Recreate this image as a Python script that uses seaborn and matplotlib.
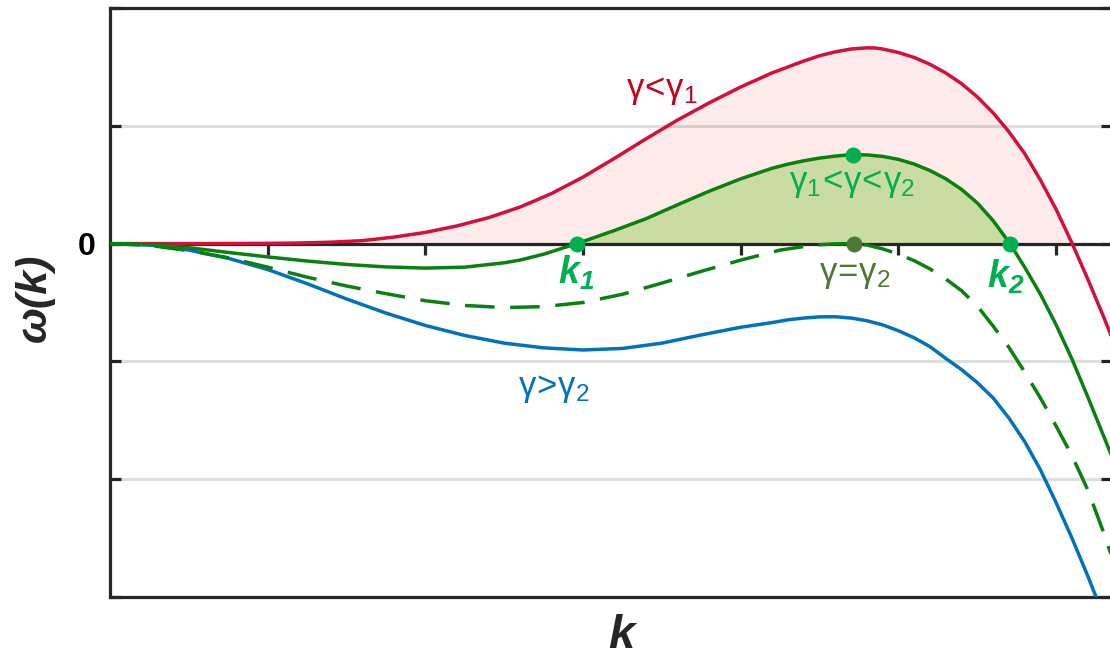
import numpy as np
import matplotlib
matplotlib.use("Agg")
import matplotlib.pyplot as plt
import seaborn as sns

# Dispersion curves omega(k) for four damping regimes
k_red = [0, 0.2, 0.4, 0.6, 0.8, 1.0, 1.2, 1.4, 1.6, 1.8, 2.0, 2.2, 2.4, 2.6, 2.8, 3.0,
         3.2, 3.4, 3.6, 3.8, 4.0, 4.2, 4.4, 4.5, 4.6, 4.7, 4.8, 4.85, 4.9, 5.0, 5.1, 5.2,
         5.3, 5.4, 5.5, 5.6, 5.7, 5.8, 5.9, 6.0, 6.1, 6.2, 6.3, 6.354]
w_red = [0, 0, 0, 0, 0.001, 0.002, 0.005, 0.012, 0.025, 0.055, 0.095, 0.15, 0.22, 0.31,
         0.425, 0.565, 0.725, 0.89, 1.05, 1.195, 1.33, 1.45, 1.55, 1.595, 1.628, 1.652,
         1.662, 1.661, 1.652, 1.622, 1.58, 1.522, 1.448, 1.358, 1.245, 1.11, 0.95, 0.765,
         0.54, 0.29, 0.005, -0.30, -0.62, -0.80]

k_green = [0, 0.25, 0.5, 0.75, 1.0, 1.25, 1.5, 1.75, 2.0, 2.25, 2.5, 2.6, 2.75, 2.96, 3.1,
           3.2, 3.4, 3.6, 3.8, 4.0, 4.2, 4.3, 4.4, 4.5, 4.6, 4.7, 4.8, 4.9, 5.0, 5.1, 5.2,
           5.3, 5.4, 5.5, 5.6, 5.707, 5.8, 5.9, 6.0, 6.1, 6.2, 6.3, 6.354]
w_green = [0, -0.008, -0.035, -0.075, -0.113, -0.148, -0.177, -0.198, -0.208, -0.2,
           -0.163, -0.14, -0.09, 0, 0.065, 0.112, 0.212, 0.33, 0.445, 0.55, 0.64, 0.675,
           0.703, 0.726, 0.743, 0.755, 0.753, 0.74, 0.715, 0.675, 0.62, 0.55, 0.46, 0.345,
           0.195, 0, -0.2, -0.43, -0.69, -0.98, -1.30, -1.63, -1.81]

k_crit = [0, 0.25, 0.5, 0.75, 1.0, 1.25, 1.5, 1.75, 2.0, 2.25, 2.5, 2.75, 3.0, 3.25, 3.5,
          3.75, 4.0, 4.25, 4.4, 4.5, 4.6, 4.72, 4.8, 4.9, 5.0, 5.1, 5.2, 5.3, 5.4, 5.5,
          5.6, 5.7, 5.8, 5.9, 6.0, 6.1, 6.2, 6.3, 6.354]
w_crit = [0, -0.015, -0.06, -0.12, -0.20, -0.285, -0.36, -0.425, -0.485, -0.525, -0.543,
          -0.535, -0.50, -0.43, -0.335, -0.235, -0.14, -0.055, -0.025, -0.01, -0.002, 0,
          -0.012, -0.045, -0.09, -0.145, -0.215, -0.30, -0.40, -0.53, -0.70, -0.88, -1.09,
          -1.31, -1.55, -1.80, -2.09, -2.45, -2.66]

k_blue = [0, 0.25, 0.5, 0.75, 1.0, 1.25, 1.5, 1.75, 2.0, 2.25, 2.5, 2.75, 3.0, 3.25, 3.5,
          3.75, 4.0, 4.2, 4.3, 4.4, 4.5, 4.6, 4.7, 4.8, 4.9, 5.0, 5.1, 5.2, 5.3, 5.4, 5.5,
          5.6, 5.7, 5.8, 5.9, 6.0, 6.1, 6.2, 6.3, 6.354]
w_blue = [0, -0.012, -0.055, -0.125, -0.22, -0.34, -0.47, -0.59, -0.695, -0.78, -0.845,
          -0.885, -0.903, -0.89, -0.845, -0.775, -0.71, -0.67, -0.647, -0.632, -0.622,
          -0.621, -0.632, -0.655, -0.69, -0.74, -0.80, -0.875, -0.975, -1.07, -1.18,
          -1.31, -1.48, -1.68, -1.92, -2.20, -2.50, -2.82, -3.16, -3.35]

# Marked points: zero crossings k1, k2, the band peak and the critical touch point
k1, k2 = 2.96, 5.707
k_peak, w_peak = 4.71, 0.756
k_touch = 4.72

x_ticks = [1, 2, 3, 4, 5, 6]
y_ticks = [-3, -2, -1, 0, 1, 2]
y_ticklabels = ["", "", "", "0", "", ""]
grid_levels = [1, -1, -2]

RED = "#d1103c"
GREEN = "#0a800f"
BLUE = "#0072bd"
BRIGHT = "#00b050"
OLIVE = "#4e7834"
AXIS = "#262626"

sns.set_theme(style="white")
plt.rcParams["font.family"] = ["Liberation Sans", "DejaVu Sans"]
plt.rcParams["mathtext.fontset"] = "custom"
plt.rcParams["mathtext.rm"] = "Liberation Sans"
plt.rcParams["mathtext.it"] = "Liberation Sans:italic"
plt.rcParams["mathtext.bf"] = "Liberation Sans:bold"
plt.rcParams["mathtext.bfit"] = "Liberation Sans:bold:italic"

fig = plt.figure(figsize=(11.1, 6.61), dpi=100)
ax = fig.add_axes([110 / 1110, 64 / 661, 1002 / 1110, 589 / 661])
ax.set_xlim(0, 6.354)
ax.set_ylim(-3, 2)

# Shaded unstable bands
kr = np.array(k_red)
wr = np.array(w_red)
ax.fill_between(kr, wr, 0, where=wr >= 0, interpolate=True, color="#fdeaea", lw=0, zorder=1)
kg = np.array(k_green)
wg = np.array(w_green)
band = (kg >= k1) & (kg <= k2)
ax.fill_between(kg[band], wg[band], 0, color="#cadca3", lw=0, zorder=1.1)

for lvl in grid_levels:
    ax.axhline(lvl, color="black", alpha=0.13, lw=2.3, zorder=1.5)

lw = 2.5
sns.lineplot(x=k_red, y=w_red, color=RED, lw=lw, sort=False, ax=ax, zorder=3)
sns.lineplot(x=k_blue, y=w_blue, color=BLUE, lw=lw, sort=False, ax=ax, zorder=3)
sns.lineplot(x=k_crit, y=w_crit, color=GREEN, lw=lw, sort=False, ax=ax, zorder=3,
             linestyle=(0, (8.5, 4.5)))
sns.lineplot(x=k_green, y=w_green, color=GREEN, lw=lw, sort=False, ax=ax, zorder=3.1)

ax.plot([k1, k2, k_peak], [0, 0, w_peak], "o", color=BRIGHT, ms=11.5, mec="none", zorder=5)
ax.plot([k_touch], [0], "o", color=OLIVE, ms=11.5, mec="none", zorder=5)

# Axis frame: x ticks sit on the zero line, box closed below
for side in ["left", "right", "top", "bottom"]:
    ax.spines[side].set_color(AXIS)
    ax.spines[side].set_linewidth(2.3)
ax.spines["bottom"].set_position(("data", 0))
ax.spines["bottom"].set_zorder(2.5)
ax.axhline(-3, color=AXIS, lw=2.3, clip_on=False, zorder=2.5)

ax.set_xticks(x_ticks)
ax.set_xticklabels([])
ax.tick_params(axis="x", direction="out", length=8, width=2.3, color=AXIS,
               bottom=True, top=False)
ax.set_yticks(y_ticks)
ax.set_yticklabels(y_ticklabels)
ax.tick_params(axis="y", direction="in", length=8, width=2.3, color=AXIS,
               left=True, right=True, labelsize=23, pad=10)
for lab in ax.get_yticklabels():
    lab.set_fontweight("bold")
    lab.set_color("black")
ax.set_xlabel("")
ax.set_ylabel("")

lbl = dict(ha="center", va="center", fontsize=25, zorder=6)
ax.text(3.50, 1.30, r"$\mathrm{γ\!<\!γ_1}$", color="#c8001e", **lbl)
ax.text(4.705, 0.51, r"$\mathrm{γ_1\!<\!γ\!<\!γ_2}$", color=BRIGHT, **lbl)
ax.text(4.72, -0.265, r"$\mathrm{γ\!=\!γ_2}$", color=OLIVE, **lbl)
ax.text(2.815, -1.23, r"$\mathrm{γ\!>\!γ_2}$", color=BLUE, **lbl)
kl = dict(ha="center", va="center", fontsize=27, color=BRIGHT, zorder=6)
ax.text(2.955, -0.245, r"$\mathbfit{k_1}$", **kl)
ax.text(5.68, -0.28, r"$\mathbfit{k_2}$", **kl)

fig.text(35 / 1110, 1 - 298 / 661, "ω(k)", rotation=90, ha="center", va="center",
         fontsize=31, fontweight="bold", style="italic")
fig.text(621 / 1110, 1 - 636 / 661, "k", ha="center", va="center",
         fontsize=34, fontweight="bold", style="italic")

fig.savefig("out.png", dpi=100)
